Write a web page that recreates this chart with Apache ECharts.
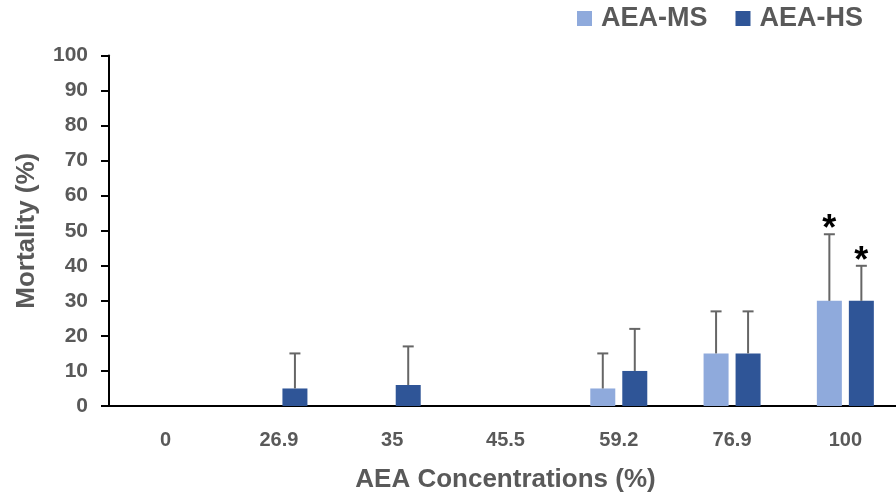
<!DOCTYPE html>
<html>
<head>
<meta charset="utf-8">
<script src="https://cdn.jsdelivr.net/npm/echarts@6/dist/echarts.min.js"></script>
<style>
  html, body { margin: 0; padding: 0; background: #fff; overflow: hidden; }
  #chart { width: 910px; height: 500px; }
</style>
</head>
<body>
<div id="chart"></div>
<script>
// data
let categories = ['0', '26.9', '35', '45.5', '59.2', '76.9', '100'];
let msMean = [0, 0, 0, 0, 5, 15, 30];
let msErr = [0, 0, 0, 0, 10, 12, 19];
let hsMean = [0, 5, 6, 0, 10, 15, 30];
let hsErr = [0, 10, 11, 0, 12, 12, 10];
let msSig = ['', '', '', '', '', '', '*'];
let hsSig = ['', '', '', '', '', '', '*'];

const BAR_W = 25;
const BAR_GAP = 7;
const GREY = '#595959';
const FONT = 'Liberation Sans';

function errorSeries(means, errs, sigs, side) {
    let offset = side * (BAR_W + BAR_GAP) / 2;
    return {
        type: 'custom',
        z: 5,
        data: means.map(function(m, i) { return [i, m, m + errs[i]] }),
        renderItem: function(params, api) {
            let i = params.dataIndex;
            if (!errs[i]) return null;
            let base = api.coord([api.value(0), api.value(1)]);
            let top = api.coord([api.value(0), api.value(2)]);
            let x = base[0] + offset;
            let children = [{
                type: 'line',
                shape: { x1: x, y1: base[1], x2: x, y2: top[1] },
                style: { stroke: '#666', lineWidth: 2 }
            }, {
                type: 'line',
                shape: { x1: x - 5.5, y1: top[1], x2: x + 5.5, y2: top[1] },
                style: { stroke: '#666', lineWidth: 2 }
            }];
            if (sigs[i]) {
                children.push({
                    type: 'text',
                    style: {
                        x: x, y: top[1] - 4,
                        text: sigs[i],
                        fill: '#000',
                        font: 'bold 36px ' + FONT,
                        textAlign: 'center',
                        textVerticalAlign: 'middle'
                    }
                });
            }
            return { type: 'group', children: children };
        }
    };
}

let myChart = echarts.init(document.getElementById('chart'));

let option = {
    animation: false,
    legend: {
        left: 577,
        top: 5,
        padding: 0,
        itemWidth: 15,
        itemHeight: 15,
        itemGap: 28,
        icon: 'rect',
        textStyle: {
            color: GREY,
            fontFamily: FONT,
            fontWeight: 'bold',
            fontSize: 27,
            padding: [0, 0, 0, 4]
        },
        data: ['AEA-MS', 'AEA-HS']
    },
    grid: {
        left: 109,
        right: 8,
        top: 55.5,
        bottom: 94
    },
    xAxis: {
        type: 'category',
        data: categories,
        name: 'AEA Concentrations (%)',
        nameLocation: 'middle',
        nameGap: 61,
        nameTextStyle: {
            color: GREY,
            fontFamily: FONT,
            fontWeight: 'bold',
            fontSize: 26
        },
        axisLine: { lineStyle: { color: '#000', width: 2 } },
        axisTick: { length: 9, lineStyle: { color: '#000', width: 2 } },
        axisLabel: {
            margin: 24,
            color: GREY,
            fontFamily: FONT,
            fontWeight: 'bold',
            fontSize: 20
        }
    },
    yAxis: {
        type: 'value',
        min: 0,
        max: 100,
        interval: 10,
        name: 'Mortality (%)',
        nameLocation: 'middle',
        nameGap: 69,
        nameTextStyle: {
            color: GREY,
            fontFamily: FONT,
            fontWeight: 'bold',
            fontSize: 26
        },
        splitLine: { show: false },
        axisLine: { show: true, lineStyle: { color: '#000', width: 2 } },
        axisTick: { show: true, length: 8, lineStyle: { color: '#000', width: 2 } },
        axisLabel: {
            margin: 21,
            color: GREY,
            fontFamily: FONT,
            fontWeight: 'bold',
            fontSize: 21
        }
    },
    series: [{
        name: 'AEA-MS',
        type: 'bar',
        barWidth: BAR_W,
        barGap: (BAR_GAP / BAR_W * 100) + '%',
        itemStyle: { color: '#8FAADC' },
        data: msMean
    }, {
        name: 'AEA-HS',
        type: 'bar',
        barWidth: BAR_W,
        itemStyle: { color: '#2F5597' },
        data: hsMean
    },
    errorSeries(msMean, msErr, msSig, -1),
    errorSeries(hsMean, hsErr, hsSig, 1)
    ]
};
myChart.setOption(option);
</script>
</body>
</html>
